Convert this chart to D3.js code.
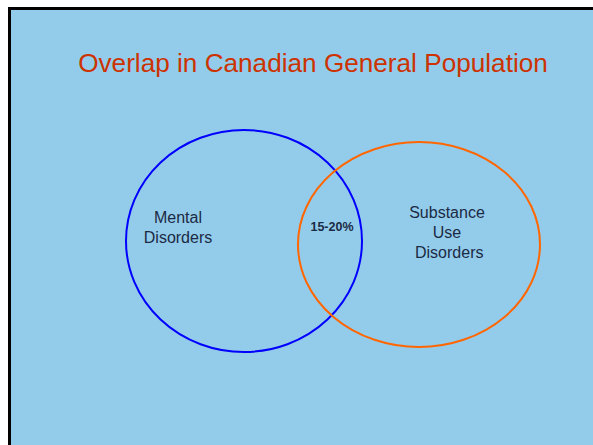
<!DOCTYPE html>
<html><head><meta charset="utf-8">
<script src="https://cdn.jsdelivr.net/npm/d3@7"></script>
<style>html,body{margin:0;padding:0;background:#fff;}svg{display:block;}</style>
</head><body>
<script>
const title = "Overlap in Canadian General Population";
const setNames = ["Mental Disorders", "Substance Use Disorders"];
const setLabelLines = [["Mental", "Disorders"], ["Substance", "Use", " Disorders"]];
const setColors = ["#0000ff", "#ff6600"];
const overlapLabel = "15-20%";

const W = 593, H = 445;
const svg = d3.select("body").append("svg").attr("width", W).attr("height", H)
  .style("font-family", "'Liberation Sans', Arial, sans-serif");

svg.append("rect").attr("x", 8).attr("y", 7).attr("width", W).attr("height", H).attr("fill", "#000");
svg.append("rect").attr("x", 11).attr("y", 10).attr("width", W).attr("height", H).attr("fill", "#93cceb");

const t = svg.append("text").attr("x", 313).attr("y", 72).attr("text-anchor", "middle")
  .attr("fill", "#cc3300").style("font-size", "24px").text(title);
const tw = t.node().getComputedTextLength();
t.style("font-size", (24 * 470 / tw) + "px");

// layout of the two sets (ellipses)
const layout = [
  {cx: 244, cy: 241, rx: 118, ry: 111, lx: 178, ly: 223},
  {cx: 419, cy: 244.5, rx: 121, ry: 102.5, lx: 447, ly: 218}
];
const sets = setNames.map((n, i) => ({name: n, lines: setLabelLines[i], color: setColors[i], ...layout[i]}));

svg.selectAll("ellipse.set").data(sets).join("ellipse").attr("class", "set")
  .attr("cx", d => d.cx).attr("cy", d => d.cy).attr("rx", d => d.rx).attr("ry", d => d.ry)
  .attr("fill", "none").attr("stroke", d => d.color).attr("stroke-width", 2);

sets.forEach(s => {
  const tx = svg.append("text").attr("text-anchor", "middle").attr("fill", "#1b2a44")
    .style("font-size", "16px").style("white-space", "pre").attr("xml:space", "preserve");
  s.lines.forEach((l, j) => {
    tx.append("tspan").attr("x", s.lx).attr("y", s.ly + j * 20).text(l);
  });
});

svg.append("text").attr("x", 332).attr("y", 231).attr("text-anchor", "middle")
  .attr("fill", "#1b2a44").style("font-size", "12.5px").style("font-weight", "bold").text(overlapLabel);
</script>
</body></html>
